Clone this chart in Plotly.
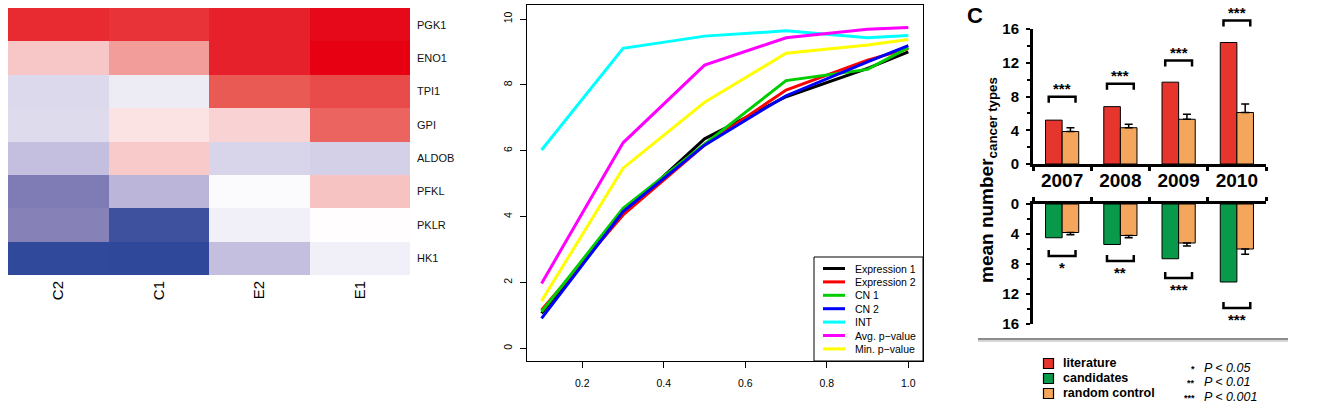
import plotly.graph_objects as go

W, H = 1319, 413
FONT = "Liberation Sans, Arial, Helvetica, sans-serif"

def px(x):
    return x / W

def py(y):
    return 1 - y / H

# ---------------- Heatmap data ----------------
genes = ["PGK1", "ENO1", "TPI1", "GPI", "ALDOB", "PFKL", "PKLR", "HK1"]
samples = ["C2", "C1", "E2", "E1"]
heat_values = [
    [0.86, 0.83, 0.89, 0.97],
    [0.24, 0.42, 0.89, 1.00],
    [-0.18, -0.09, 0.70, 0.75],
    [-0.17, 0.12, 0.19, 0.66],
    [-0.30, 0.23, -0.20, -0.22],
    [-0.60, -0.34, -0.02, 0.26],
    [-0.57, -0.91, -0.07, 0.01],
    [-0.97, -0.98, -0.30, -0.07],
]
heat_scale = [
    [0.0, "#2B4599"], [0.2, "#7F7BB4"], [0.35, "#C4BFDF"], [0.5, "#FFFFFF"],
    [0.625, "#F7C5C5"], [0.75, "#EF8A86"], [0.85, "#EA5A55"], [1.0, "#E60012"],
]

# ---------------- Line chart data ----------------
fractions = [0.1, 0.3, 0.5, 0.7, 0.9, 1.0]
series_names = ["Expression 1", "Expression 2", "CN 1", "CN 2", "INT", "Avg. p\u2212value", "Min. p\u2212value"]
series_colors = ["#000000", "#FF0000", "#00CD00", "#0000FF", "#00FFFF", "#FF00FF", "#FFFF00"]
expr1 = [1.06, 4.10, 6.36, 7.64, 8.50, 9.00]
expr2 = [1.16, 4.05, 6.17, 7.84, 8.75, 9.10]
cn1 = [1.11, 4.25, 6.20, 8.13, 8.47, 9.13]
cn2 = [0.91, 4.15, 6.17, 7.67, 8.70, 9.19]
int_ = [6.02, 9.11, 9.48, 9.64, 9.43, 9.50]
avg_p = [1.97, 6.24, 8.60, 9.43, 9.69, 9.74]
min_p = [1.44, 5.47, 7.47, 8.96, 9.21, 9.38]
series_values = [expr1, expr2, cn1, cn2, int_, avg_p, min_p]

# ---------------- Bar chart data ----------------
years = ["2007", "2008", "2009", "2010"]
literature = [5.2, 6.8, 9.7, 14.4]
random_top = [3.85, 4.3, 5.3, 6.1]
random_top_err = [0.45, 0.4, 0.6, 1.0]
candidates = [4.5, 5.4, 7.3, 10.4]
random_bottom = [3.8, 4.2, 5.2, 6.0]
random_bottom_err = [0.3, 0.3, 0.4, 0.7]
top_stars = ["***", "***", "***", "***"]
top_bracket = [7.96, 9.5, 12.27, 17.0]
bottom_stars = ["*", "**", "***", "***"]
bottom_bracket = [6.93, 7.6, 9.87, 13.87]
col_lit = "#E5352C"
col_cand = "#08994A"
col_rand = "#F4A65C"

fig = go.Figure()

# Heatmap
fig.add_trace(go.Heatmap(
    z=heat_values, x=samples, y=genes, zmin=-1, zmax=1,
    colorscale=heat_scale, showscale=False, xaxis="x", yaxis="y",
    hoverinfo="skip",
))

# Lines
for name, color, vals in zip(series_names, series_colors, series_values):
    fig.add_trace(go.Scatter(
        x=fractions, y=vals, mode="lines", name=name,
        line=dict(color=color, width=3), xaxis="x2", yaxis="y2", showlegend=False,
    ))

# Bars top
xs = list(range(len(years)))
fig.add_trace(go.Bar(x=xs, y=literature, marker=dict(color=col_lit, line=dict(color="black", width=1)),
                     xaxis="x3", yaxis="y3", showlegend=False, offsetgroup="a"))
fig.add_trace(go.Bar(x=xs, y=random_top, marker=dict(color=col_rand, line=dict(color="black", width=1)),
                     error_y=dict(type="data", symmetric=False, array=random_top_err,
                                  arrayminus=[0] * 4, color="black", thickness=1.5, width=4),
                     xaxis="x3", yaxis="y3", showlegend=False, offsetgroup="b"))
# Bars bottom
fig.add_trace(go.Bar(x=xs, y=candidates, marker=dict(color=col_cand, line=dict(color="black", width=1)),
                     xaxis="x4", yaxis="y4", showlegend=False, offsetgroup="a"))
fig.add_trace(go.Bar(x=xs, y=random_bottom, marker=dict(color=col_rand, line=dict(color="black", width=1)),
                     error_y=dict(type="data", symmetric=False, array=random_bottom_err,
                                  arrayminus=[0] * 4, color="black", thickness=1.5, width=4),
                     xaxis="x4", yaxis="y4", showlegend=False, offsetgroup="b"))

# geometry of bar panel
BX0, BX1 = 1033, 1266
TOP_Y0, TOP_Y16 = 164, 29
BOT_Y0, BOT_Y16 = 204, 324

def bar_x(v):
    return BX0 + (v + 0.5) * (BX1 - BX0) / 4

def top_y(v):
    return TOP_Y0 + (TOP_Y16 - TOP_Y0) * v / 16

def bot_y(v):
    return BOT_Y0 + (BOT_Y16 - BOT_Y0) * v / 16

bold = dict(family=FONT, color="black", weight="bold")

layout = dict(
    width=W, height=H, autosize=False,
    margin=dict(l=0, r=0, t=0, b=0, pad=0),
    paper_bgcolor="white", plot_bgcolor="white",
    font=dict(family=FONT, color="black"),
    barmode="group", bargap=0.43, bargroupgap=0,
    xaxis=dict(domain=[px(8), px(410)], anchor="y", showgrid=False, zeroline=False, automargin=False,
               tickangle=-90, ticks="", tickfont=dict(size=15, family=FONT, color="black"),
               ticklabelstandoff=2),
    yaxis=dict(domain=[py(275), py(8)], anchor="x", side="right", autorange="reversed", automargin=False,
               showgrid=False, zeroline=False, ticks="", ticklabelstandoff=6,
               tickfont=dict(size=11, family=FONT, color="#111")),
    xaxis2=dict(domain=[px(527.3), px(923)], anchor="y2", range=[0.065, 1.036], automargin=False,
                showline=True, mirror=True, linecolor="black", linewidth=1,
                ticks="outside", ticklen=6, tickwidth=1, tickcolor="black",
                tickvals=[0.2, 0.4, 0.6, 0.8, 1.0], tickformat=".1f",
                tickfont=dict(size=10.5, family=FONT, color="black"),
                showgrid=False, zeroline=False, ticklabelstandoff=6),
    yaxis2=dict(domain=[py(361), py(5)], anchor="x2", range=[-0.386, 10.425], automargin=False,
                showline=True, mirror=True, linecolor="black", linewidth=1,
                ticks="outside", ticklen=6, tickwidth=1, tickcolor="black",
                tickvals=[0, 2, 4, 6, 8, 10], tickangle=-90,
                tickfont=dict(size=10.5, family=FONT, color="black"),
                showgrid=False, zeroline=False, ticklabelstandoff=4),
    xaxis3=dict(domain=[px(BX0), px(BX1)], anchor="y3", range=[-0.5, 3.5], automargin=False,
                showline=True, linecolor="black", linewidth=3,
                tickmode="array", tickvals=[-0.5, 0.5, 1.5, 2.5, 3.5], ticks="outside",
                ticklen=4, tickwidth=3, tickcolor="black", showticklabels=False,
                showgrid=False, zeroline=False),
    yaxis3=dict(domain=[py(TOP_Y0), py(TOP_Y16)], anchor="x3", range=[0, 16], automargin=False,
                showline=True, linecolor="black", linewidth=3,
                tickmode="array", tickvals=[0, 4, 8, 12, 16], ticks="outside",
                ticklen=4, tickwidth=2, tickcolor="black",
                minor=dict(tickvals=[2, 6, 10, 14], ticks="outside", ticklen=3, tickwidth=2, tickcolor="black"),
                tickfont=dict(size=15, **bold), ticklabelstandoff=4,
                showgrid=False, zeroline=False),
    xaxis4=dict(domain=[px(BX0), px(BX1)], anchor="y4", range=[-0.5, 3.5], side="top", automargin=False,
                showline=True, linecolor="black", linewidth=3,
                tickmode="array", tickvals=[0, 1, 2, 3], ticktext=years, ticks="",
                minor=dict(tickvals=[-0.5, 0.5, 1.5, 2.5, 3.5], ticks="outside", ticklen=4,
                           tickwidth=3, tickcolor="black"),
                tickfont=dict(size=19, **bold), ticklabelstandoff=6,
                showgrid=False, zeroline=False),
    yaxis4=dict(domain=[py(BOT_Y16), py(BOT_Y0)], anchor="x4", range=[16, 0], automargin=False,
                showline=True, linecolor="black", linewidth=3,
                tickmode="array", tickvals=[0, 4, 8, 12, 16], ticks="outside",
                ticklen=4, tickwidth=2, tickcolor="black",
                minor=dict(tickvals=[2, 6, 10, 14], ticks="outside", ticklen=3, tickwidth=2, tickcolor="black"),
                tickfont=dict(size=15, **bold), ticklabelstandoff=4,
                showgrid=False, zeroline=False),
)
fig.update_layout(**layout)

shapes = []
annotations = []

# Line chart legend (manual, compact like the original)
LX0, LY0, LX1, LY1 = 814, 257, 923, 361
shapes.append(dict(type="rect", xref="paper", yref="paper", x0=px(LX0), x1=px(LX1), y0=py(LY1), y1=py(LY0),
                   line=dict(color="black", width=1), fillcolor="white", layer="above"))
for i, (name, color) in enumerate(zip(series_names, series_colors)):
    yy = 268.5 + i * 13.4
    shapes.append(dict(type="line", xref="paper", yref="paper", x0=px(823), x1=px(845), y0=py(yy), y1=py(yy),
                       line=dict(color=color, width=3), layer="above"))
    annotations.append(dict(text=name, xref="paper", yref="paper", x=px(853), y=py(yy), xanchor="left",
                            yanchor="middle", showarrow=False, font=dict(size=10.5, family=FONT, color="black")))

# significance brackets
half = 0.23
for i in range(4):
    xa, xb = px(bar_x(i - half)), px(bar_x(i + half))
    yl = top_y(top_bracket[i])
    shapes.append(dict(type="path", xref="paper", yref="paper",
                       path=f"M {xa},{py(yl + 6)} L {xa},{py(yl)} L {xb},{py(yl)} L {xb},{py(yl + 6)}",
                       line=dict(color="black", width=2.5)))
    annotations.append(dict(text=top_stars[i], xref="paper", yref="paper", x=px(bar_x(i)), y=py(yl - 8),
                            xanchor="center", yanchor="middle", showarrow=False, font=dict(size=15, **bold)))
    yb = bot_y(bottom_bracket[i])
    shapes.append(dict(type="path", xref="paper", yref="paper",
                       path=f"M {xa},{py(yb - 6)} L {xa},{py(yb)} L {xb},{py(yb)} L {xb},{py(yb - 6)}",
                       line=dict(color="black", width=2.5)))
    annotations.append(dict(text=bottom_stars[i], xref="paper", yref="paper", x=px(bar_x(i)), y=py(yb + 1),
                            xanchor="center", yanchor="top", showarrow=False, font=dict(size=15, **bold)))

# panel letter and axis title
annotations.append(dict(text="C", xref="paper", yref="paper", x=px(975), y=py(15), xanchor="center",
                        yanchor="middle", showarrow=False, font=dict(size=22, **bold)))
annotations.append(dict(text="mean number<sub>cancer types</sub>", xref="paper", yref="paper",
                        x=px(988), y=py(180), xanchor="center", yanchor="middle", textangle=-90,
                        showarrow=False, font=dict(size=19, **bold)))

# separator line
shapes.append(dict(type="line", xref="paper", yref="paper", x0=px(978), x1=px(1288), y0=py(341), y1=py(341),
                   line=dict(color="#D6D6D6", width=2)))
shapes.append(dict(type="line", xref="paper", yref="paper", x0=px(978), x1=px(1288), y0=py(339), y1=py(339),
                   line=dict(color="#8C8C8C", width=2)))

# bar legend
leg_items = [("literature", col_lit, 363.5), ("candidates", col_cand, 378.5), ("random control", col_rand, 393.5)]
for label, color, yy in leg_items:
    shapes.append(dict(type="rect", xref="paper", yref="paper", x0=px(1043.5), x1=px(1053.5),
                       y0=py(yy + 5), y1=py(yy - 5), fillcolor=color, line=dict(color="black", width=1.2)))
    annotations.append(dict(text=label, xref="paper", yref="paper", x=px(1061), y=py(yy - 1), xanchor="left",
                            yanchor="middle", showarrow=False, font=dict(size=12.5, **bold)))
pv_items = [("*", "0.05", 368), ("**", "0.01", 382), ("***", "0.001", 397)]
for st, p, yy in pv_items:
    annotations.append(dict(text=st, xref="paper", yref="paper", x=px(1197), y=py(yy + 1), xanchor="right",
                            yanchor="middle", showarrow=False, font=dict(size=9, **bold)))
    annotations.append(dict(text=f"<i>P &lt; {p}</i>", xref="paper", yref="paper", x=px(1202), y=py(yy),
                            xanchor="left", yanchor="middle", showarrow=False,
                            font=dict(size=12.5, family=FONT, color="black")))

fig.update_layout(shapes=shapes, annotations=annotations)
fig.write_html("out.html")
